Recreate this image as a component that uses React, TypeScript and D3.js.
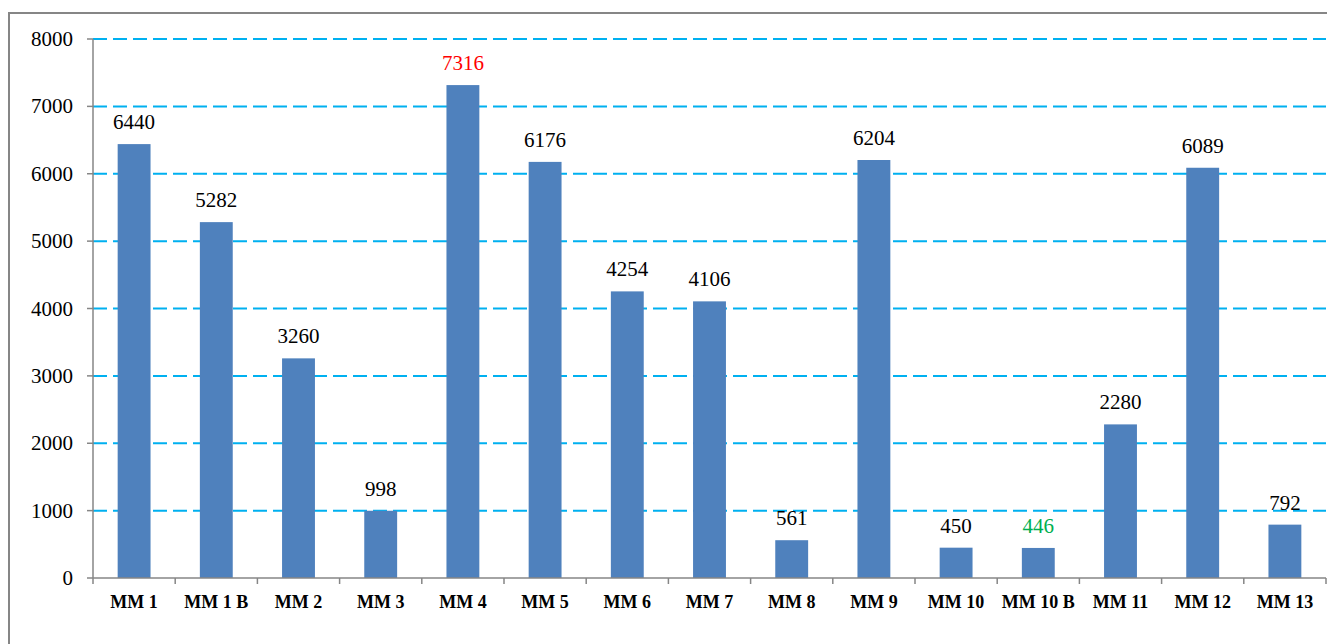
import React from "react";
import * as d3 from "d3";

const categories = ["MM 1", "MM 1 B", "MM 2", "MM 3", "MM 4", "MM 5", "MM 6", "MM 7", "MM 8", "MM 9", "MM 10", "MM 10 B", "MM 11", "MM 12", "MM 13"];
const values = [6440, 5282, 3260, 998, 7316, 6176, 4254, 4106, 561, 6204, 450, 446, 2280, 6089, 792];
const labelColors = ["#000", "#000", "#000", "#000", "#FF0000", "#000", "#000", "#000", "#000", "#000", "#000", "#00B050", "#000", "#000", "#000"];
const yTicks = [0, 1000, 2000, 3000, 4000, 5000, 6000, 7000, 8000];

const W = 1327;
const H = 644;
const left = 93;
const right = 1326;
const top = 39;
const bottom = 578;

export default function App() {
  const x = d3.scaleBand<string>().domain(categories).range([left, right]).paddingInner(0).paddingOuter(0);
  const y = d3.scaleLinear().domain([0, 8000]).range([bottom, top]);
  const bw = x.bandwidth() * 0.4;
  const serif = "Liberation Serif, Tinos, Times New Roman, DejaVu Serif, serif";
  return (
    <svg width={W} height={H} style={{ position: "absolute", left: 0, top: 0 }}>
      <rect x={0} y={0} width={W} height={H} fill="#fff" />
      <rect x={9} y={13} width={W} height={H} fill="none" stroke="#868686" strokeWidth={2} />
      {yTicks.filter((t) => t > 0).map((t) => (
        <line key={"g" + t} x1={left} x2={right} y1={y(t)} y2={y(t)} stroke="#00B0F0" strokeWidth={2} strokeDasharray="14 6" />
      ))}
      {categories.map((c, i) => (
        <rect key={c} x={x(c)! + (x.bandwidth() - bw) / 2} y={y(values[i])} width={bw} height={y(0) - y(values[i])} fill="#4F81BD" />
      ))}
      <line x1={left} x2={left} y1={top} y2={bottom} stroke="#868686" strokeWidth={1.5} />
      <line x1={left} x2={right} y1={bottom} y2={bottom} stroke="#868686" strokeWidth={1.5} />
      {yTicks.map((t) => (
        <g key={"t" + t}>
          <line x1={left - 6} x2={left} y1={y(t)} y2={y(t)} stroke="#868686" strokeWidth={1.5} />
          <text x={73} y={y(t) + 7} textAnchor="end" style={{ fontFamily: serif }} fontSize={21} fill="#000">{t}</text>
        </g>
      ))}
      {categories.map((c, i) => (
        <line key={"xt" + c} x1={x(c)! + x.bandwidth()} x2={x(c)! + x.bandwidth()} y1={bottom} y2={bottom + 6} stroke="#868686" strokeWidth={1.5} />
      ))}
      <line x1={left} x2={left} y1={bottom} y2={bottom + 6} stroke="#868686" strokeWidth={1.5} />
      {categories.map((c) => (
        <text key={"xl" + c} x={x(c)! + x.bandwidth() / 2} y={608} textAnchor="middle" style={{ fontFamily: serif }} fontWeight="bold" fontSize={18} fill="#000">{c}</text>
      ))}
      {categories.map((c, i) => (
        <text key={"vl" + c} x={x(c)! + x.bandwidth() / 2} y={y(values[i]) - 15} textAnchor="middle" style={{ fontFamily: serif }} fontSize={21} fill={labelColors[i]}>{values[i]}</text>
      ))}
    </svg>
  );
}
